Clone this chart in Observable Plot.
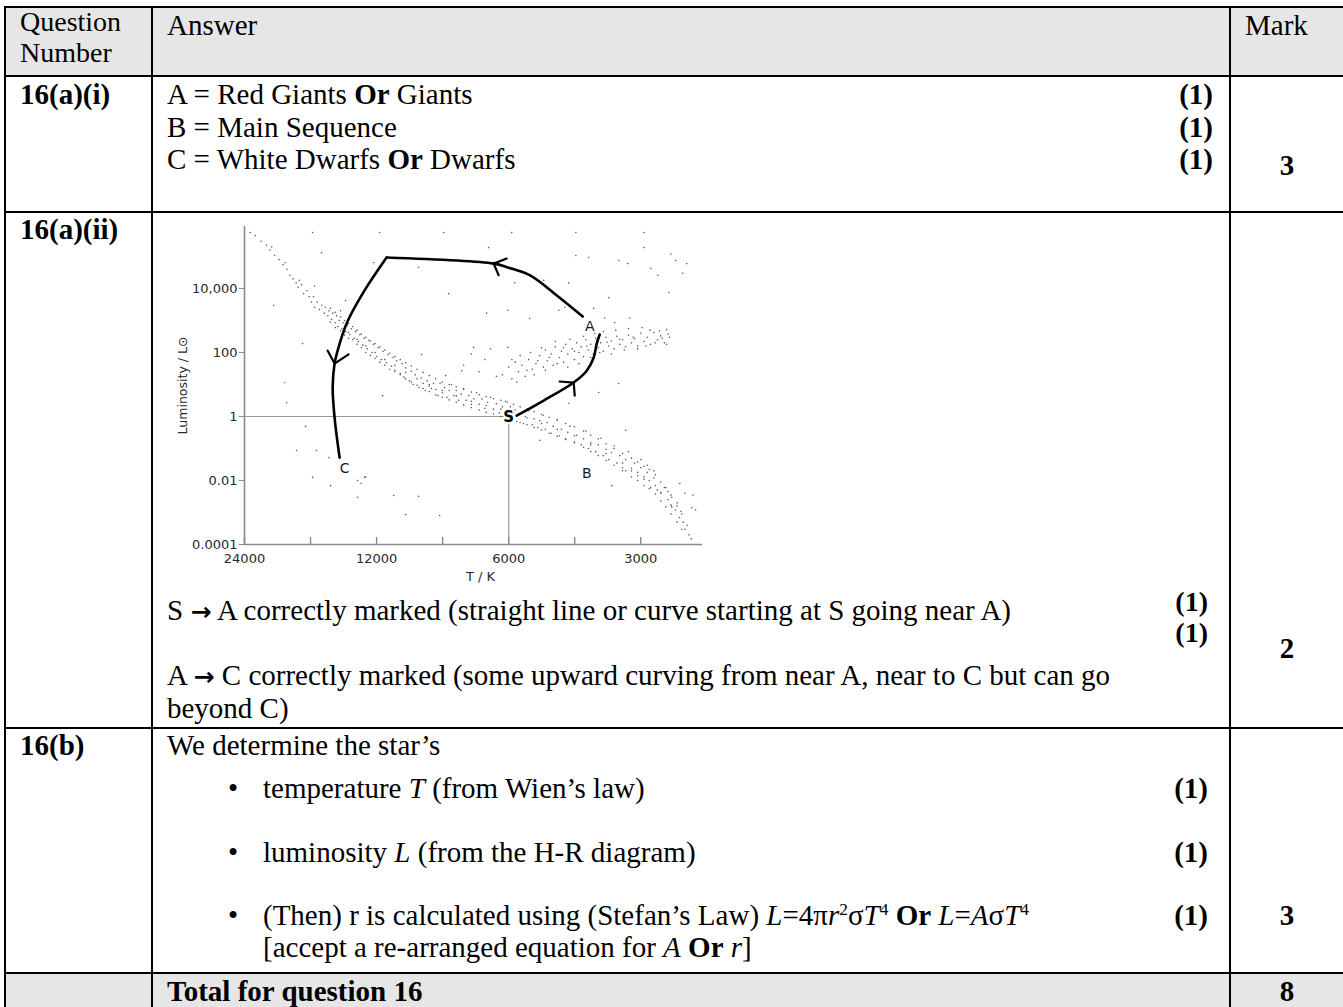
<!DOCTYPE html>
<html><head><meta charset="utf-8">
<script src="https://cdn.jsdelivr.net/npm/d3@7"></script>
<script src="https://cdn.jsdelivr.net/npm/@observablehq/plot@0.6"></script>
<style>
html,body{margin:0;padding:0;background:#fff;}
#page{position:relative;width:1343px;height:1007px;overflow:hidden;font-family:"Liberation Serif","Times New Roman",serif;font-size:29px;color:#000;background:#fff;}
.t{position:absolute;line-height:32px;white-space:nowrap;}
.h{line-height:30px;font-size:28px;}
.m{line-height:30px;font-size:28px;}
.r{text-align:right;}
.c{text-align:center;width:110px;left:1232px;}
.hl{position:absolute;background:#000;height:2px;left:4px;width:1345px;}
.vl{position:absolute;background:#000;width:2px;top:6px;height:1010px;}
.bg{position:absolute;background:#e6e6e6;left:4px;width:1345px;}
.ar{font-family:"DejaVu Sans",sans-serif;font-weight:bold;font-size:25px;}
#chart{position:absolute;left:153px;top:210px;}
sup{font-size:60%;line-height:0;vertical-align:0.55em;}
</style></head>
<body><div id="page">
<div class="bg" style="top:7px;height:69px"></div>
<div class="bg" style="top:973px;height:40px"></div>
<div id="chart"></div>

<div class="t h" style="left:20px;top:7px">Question</div>
<div class="t h" style="left:20px;top:38px">Number</div>
<div class="t" style="left:167px;top:9px">Answer</div>
<div class="t" style="left:1245px;top:9px">Mark</div>

<div class="t" style="left:20px;top:78px"><b>16(a)(i)</b></div>
<div class="t" style="left:167px;top:78px">A = Red Giants <b>Or</b> Giants</div>
<div class="t" style="left:167px;top:111px">B = Main Sequence</div>
<div class="t" style="left:167px;top:143px">C = White Dwarfs <b>Or</b> Dwarfs</div>
<div class="t r" style="right:130px;top:78px"><b>(1)</b></div>
<div class="t r" style="right:130px;top:111px"><b>(1)</b></div>
<div class="t r" style="right:130px;top:143px"><b>(1)</b></div>
<div class="t c" style="top:149px"><b>3</b></div>

<div class="t" style="left:20px;top:213px"><b>16(a)(ii)</b></div>
<div class="t" style="left:167px;top:594px">S <span class="ar">→</span> A correctly marked (straight line or curve starting at S going near A)</div>
<div class="t r m" style="right:135px;top:587px"><b>(1)</b></div>
<div class="t r m" style="right:135px;top:618px"><b>(1)</b></div>
<div class="t c" style="top:632px"><b>2</b></div>
<div class="t" style="left:167px;top:659px">A <span class="ar">→</span> C correctly marked (some upward curving from near A, near to C but can go</div>
<div class="t" style="left:167px;top:692px">beyond C)</div>

<div class="t" style="left:20px;top:729px"><b>16(b)</b></div>
<div class="t" style="left:167px;top:729px">We determine the star’s</div>
<div class="t" style="left:228px;top:772px">•</div>
<div class="t" style="left:263px;top:772px">temperature <i>T</i> (from Wien’s law)</div>
<div class="t r" style="right:135px;top:772px"><b>(1)</b></div>
<div class="t" style="left:228px;top:836px">•</div>
<div class="t" style="left:263px;top:836px">luminosity <i>L</i> (from the H-R diagram)</div>
<div class="t r" style="right:135px;top:836px"><b>(1)</b></div>
<div class="t" style="left:228px;top:899px">•</div>
<div class="t" style="left:263px;top:899px">(Then) r is calculated using (Stefan’s Law) <i>L</i>=4π<i>r</i><sup>2</sup>σ<i>T</i><sup>4</sup> <b>Or</b> <i>L</i>=<i>A</i>σ<i>T</i><sup>4</sup></div>
<div class="t" style="left:263px;top:931px">[accept a re-arranged equation for <i>A</i> <b>Or</b> <i>r</i>]</div>
<div class="t r" style="right:135px;top:899px"><b>(1)</b></div>
<div class="t c" style="top:899px"><b>3</b></div>

<div class="t" style="left:167px;top:975px"><b>Total for question 16</b></div>
<div class="t c" style="top:975px"><b>8</b></div>

<div class="hl" style="top:6px"></div>
<div class="hl" style="top:75px"></div>
<div class="hl" style="top:211px"></div>
<div class="hl" style="top:727px"></div>
<div class="hl" style="top:972px"></div>
<div class="vl" style="left:4px"></div>
<div class="vl" style="left:151px"></div>
<div class="vl" style="left:1229px"></div>
</div>
<script>
// ---- axes ----
const tDomain = [24000, 2170];
const lDomain = [0.0001, 866000];
const xTickValues = [24000, 16971, 12000, 8485, 6000, 4243, 3000];
const xTickLabels = ["24000", "", "12000", "", "6000", "", "3000"];
const yTickValues = [10000, 100, 1, 0.01, 0.0001];
const yTickLabels = ["10,000", "100", "1", "0.01", "0.0001"];
const xLabel = "T / K";
const yLabel = "Luminosity / L\u2299";
const sunT = 6000, sunL = 1;

// ---- stars [T (K), L (L_sun)] ----
const mainSequence = [
[23300,5.6e5],[22700,4.5e5],[22000,3.0e5],[21400,2.3e5],[21000,1.6e5],[20800,2.0e5],[20500,1.1e5],[20000,8e4],[19600,5.5e4],[19400,6.5e4],[19200,4.0e4],[18900,2.6e4],[18600,2.0e4],[18300,1.5e4],[18100,1.1e4],[18000,1.8e4],[17800,1.3e4],[17600,7e3],[17300,8.5e3],[17100,5.5e3],[16900,3.8e3],
[16700,5.5e3],[16600,2.6e3],[16400,3.8e3],[16200,2.2e3],[16000,3.0e3],[15800,1.7e3],[15700,2.6e3],[15500,1.4e3],[15400,2.0e3],[15200,1.1e3],[15100,1.7e3],[14900,850],[14800,1.4e3],[14700,650],[14600,1.0e3],[14400,550],[14300,850],[14100,450],[14000,700],[13800,360],[13700,550],[13500,280],[13400,450],[13200,220],[13100,360],[12900,170],[12800,280],
[12600,130],[12500,240],[12300,100],[12200,180],[12000,75],[11900,140],[11700,60],[11600,110],[11400,48],[11300,85],[11100,38],[11000,70],[10900,28],[10800,55],[10600,22],[10500,45],[10400,17],[10300,33],[10100,13],[10000,26],[9900,10],[9800,20],[9600,8],[9500,16],[9400,11],[9300,6.5],[9200,13],[9100,9],[9000,7.5],[8900,11],[8800,7],[8700,4.5],
[8600,11],[8500,5.5],[8400,8],[8300,4],[8200,6.5],[8100,10],[8000,4.5],[7900,6.5],[7800,3.2],[7700,5],[7600,7.5],[7500,3.2],[7400,4.5],[7300,2.4],[7200,3.6],[7100,5.5],[7000,2.4],[6900,3.5],[6800,1.8],[6700,2.8],[6600,4],[6500,1.7],[6400,2.5],[6300,1.3],[6200,2.0],[6100,3.0],[6000,1.2],[5950,2.0],
[5900,1.0],[5800,1.6],[5750,0.7],[5650,1.2],[5550,0.6],[5500,1.0],[5400,1.5],[5300,0.55],[5250,0.85],[5150,0.45],[5100,0.75],[5000,1.1],[4950,0.4],[4900,0.65],[4800,0.3],[4750,0.5],[4650,0.8],[4600,0.25],[4550,0.4],[4450,0.2],[4400,0.32],[4350,0.5],[4250,0.16],[4200,0.26],[4100,0.13],[4050,0.2],[4000,0.35],[3950,0.1],[3900,0.15],[3800,0.08],[3750,0.13],[3700,0.21],[3650,0.06],[3600,0.095],[3550,0.045],[3500,0.075],[3450,0.12],
[3400,0.035],[3350,0.06],[3300,0.025],[3250,0.045],[3200,0.08],[3150,0.02],[3100,0.035],[3050,0.014],[3000,0.025],[3000,0.045],[2950,0.011],[2900,0.018],[2900,0.03],[2850,0.006],[2800,0.012],[2800,0.02],[2750,0.005],[2700,0.009],[2700,0.004],[2650,0.006],[2600,0.0025],[2600,0.0045],[2550,0.0015],[2550,0.003],[2500,0.0012],[2480,0.002],[2450,0.0007],[2430,0.0011],[2400,0.0005],[2380,0.0003],[2350,0.0004],[2330,0.0002],[2300,0.00015],[2280,0.0035],[2250,0.0012]
];
const mainSequenceFill = [
[15300,900],[15300,2400],[14900,600],[14900,1800],[14500,480],[14500,1300],[14500,2000],[14200,350],[14200,1000],[13900,280],[13900,800],[13900,420],[13600,250],[13600,650],[13300,180],[13300,500],[13300,260],[13000,140],[13000,380],[12700,100],[12700,300],[12700,160],[12400,80],[12400,230],[12100,65],[12100,190],[12100,100],[11800,50],[11800,150],[11500,40],[11500,120],[11500,60],[11200,30],[11200,95],[10900,25],[10900,75],[10900,40],[10600,20],[10600,60],[10300,15],[10300,48],[10300,24],[10000,12],[10000,38],[9700,9.5],[9700,30],[9700,15],[9400,7.5],[9400,24],[9100,6],[9100,19],[9100,10],[8800,4.8],[8800,15],[8500,4],[8500,12],[8500,6.5],[8200,3.3],[8200,10],[7900,2.8],[7900,8.5],[7900,4.4],[7600,2.3],[7600,7],[7300,1.9],[7300,5.8],[7300,3.0],[7000,1.6],[7000,4.8],[6750,1.35],[6750,4.2],[6750,2.2],[6500,1.2],[6500,3.6],[6250,1.0],[6250,3.2],[6250,1.7],[6050,0.9],[6050,2.8],[5850,0.8],[5850,2.4],[5850,1.3],[5650,0.65],[5650,2.0],[5450,0.55],[5450,1.7],[5450,0.9],[5250,0.45],[5250,1.4],[5050,0.38],[5050,1.15],[5050,0.6],[4850,0.3],[4850,0.95],[4650,0.24],[4650,0.78],[4650,0.4],[4450,0.19],[4450,0.6],[4250,0.15],[4250,0.48],[4250,0.25],[4050,0.11],[4050,0.35],[3900,0.08],[3900,0.26],[3900,0.13],[3750,0.06],[3750,0.2],[3600,0.042],[3600,0.14],[3600,0.07],[3450,0.03],[3450,0.1],[3300,0.02],[3300,0.07],[3300,0.035],[3150,0.013],[3150,0.05],[3150,0.024],[3050,0.01],[3050,0.038],[3050,0.018],[2950,0.007],[2950,0.028],[2950,0.013],[2870,0.0055],[2870,0.022],[2870,0.01],[2780,0.0038],[2780,0.015],[2780,0.007],[2700,0.0023],[2700,0.0042],[2630,0.0015],[2630,0.006],[2560,0.0009],[2560,0.0035],[2560,0.0017],[2480,0.0005],[2480,0.0016],[2420,0.0003],[2420,0.0009]
];
const giants = [
[6200,20],[6000,35],[5900,15],[5800,50],[5700,25],[5600,40],[5500,18],[5400,60],[5300,30],[5200,45],[5100,80],[5000,35],[4950,120],[4900,55],[4800,90],[4750,40],[4700,150],[4600,70],[4550,110],[4500,50],[4450,180],[4400,90],[4300,130],[4250,60],[4200,200],[4150,100],[4100,150],[4050,75],[4000,250],[3950,120],[3900,180],[3850,90],[3800,280],[3750,140],[3700,200],[3650,110],[3600,300],[3550,160],[3500,230],[3450,130],[3400,320],[3350,180],[3300,250],[3250,150],[3200,350],[3150,200],[3100,270],[3050,160],[3000,400],[2950,220],[2900,300],[2850,180],[2800,420],[2750,250],[2700,330],[2650,200],[2600,380],
[5900,60],[5750,12],[5650,80],[5450,28],[5350,100],[5250,20],[5150,55],[5050,140],[4950,28],[4850,70],[4700,220],[4650,45],[4500,140],[4400,35],[4350,260],[4250,110],[4150,45],[4050,320],[3980,160],[3900,70],[3820,400],[3720,100],[3650,450],[3580,210],[3500,90],[3420,500],[3350,260],[3270,120],[3200,560],[3120,300],[3050,130],[2980,600],[2920,160],[2860,500],[2780,200],[2720,480],[2680,280],[2620,520],[2580,300],[2620,180],
[7600,40],[7300,90],[7000,25],[6800,60],[6600,130],[6400,18]
];
const scattered = [
[16790,5.6e5],[11810,5.6e5],[8440,5.6e5],[5905,5.6e5],[4218,5.6e5],[2952,5.6e5],
[16020,1.3e5],[12190,6.5e4],[9627,4.6e4],[16620,1.2e4],[20600,3.0e3],[14120,4.2e3],[8225,6.9e3],[6736,1.7e3],[6030,2.1e3],[5374,1.15e3],
[3368,7.5e4],[3213,6e4],[2952,1.9e5],[2847,4.2e4],[2743,2.6e4],[2562,1.2e5],[2497,7.5e4],[2357,6e4],[2407,3e4],[2589,7.5e3],
[3625,1.2e3],[3438,870],[3178,1.2e3],[3840,2.4e3],[4377,1.5e4],[4993,1.8e4],[5815,1.5e4],[4470,2.6e3],
[6667,1.9e5],[4218,1.07e5],[3941,9.3e4],[3548,5.2e3],[4613,2.1e3],
[18260,0.087],[16450,0.087],[16790,0.0125],[15280,0.0069],[13260,0.01],[12780,0.0125],[13260,0.003],[10970,0.0034],[9627,0.0032],[10300,0.00087],[8620,0.00081],
[3493,0.0069],[3247,0.02],[2444,0.0081],[2380,0.004],[2295,0.0014],[3247,0.37],[5097,0.18],
[9475,87],[7210,145],[6030,145],[11630,4.5],[4377,2.6],[3740,5.6],[3368,10.7],[17700,190],[19240,2.7],[8350,19],[7680,27],
[17420,0.49],[15400,0.052],[13020,0.0081],[12700,0.013]
];
const stray = [[19450,11.5]];

// ---- hand-drawn evolution track ----
const trackSA = [[5753,1.07],[4993,3.16],[4266,11.5],[3983,27],[3840,70],[3780,190],[3721,365]];
const trackAtop = [[4068,1330],[4715,6900],[5374,2.6e4],[6030,4.55e4],[6492,6.0e4],[11385,9.3e4]];
const trackTopC = [[11385,9.3e4],[12780,8.7e3],[14045,810],[14720,115],[14960,45],[15110,8.05],[14960,0.93],[14570,0.052]];
const arrowHeads = [
  [[4592,12.4],[4266,11.5],[4243,4.5]],
  [[6063,8.6e4],[6492,6.0e4],[6324,2.6e4]],
  [[15520,115],[14960,45],[13900,87]]
];
const regionLabels = [
  {T:3920, L:650, text:"A"},
  {T:3983, L:0.0165, text:"B"},
  {T:14190, L:0.0237, text:"C"}
];
const sunLabel = [{T:6000, L:0.93, text:"S"}];

const xLab = new Map(xTickValues.map((v,i)=>[v, xTickLabels[i]]));
const yLab = new Map(yTickValues.map((v,i)=>[v, yTickLabels[i]]));
const stars = [...mainSequence, ...mainSequenceFill, ...giants, ...scattered];
const headRows = arrowHeads.flatMap((h,k)=>h.map(p=>({T:p[0], L:p[1], k})));
const F = "DejaVu Sans, Verdana, sans-serif";
const axisGray = "#8a8a8a";

const chart = Plot.plot({
  width: 560, height: 390,
  marginLeft: 91, marginRight: 11, marginTop: 16, marginBottom: 56,
  x: {type: "log", domain: tDomain},
  y: {type: "log", domain: lDomain},
  style: {background: "transparent", overflow: "visible", fontFamily: F, fontSize: "13px"},
  marks: [
    Plot.ruleY([sunL], {x1: () => tDomain[0], x2: () => sunT, stroke: "#9a9a9a", strokeWidth: 1.2}),
    Plot.ruleX([sunT], {y1: () => lDomain[0], y2: () => sunL, stroke: "#9a9a9a", strokeWidth: 1.2}),
    Plot.dot(stars, {x: d => d[0], y: d => d[1], r: 0.8, fill: "#5a5a5a"}),
    Plot.dot(stray, {x: d => d[0], y: d => d[1], r: 1, fill: "#7ab8ea"}),
    Plot.ruleY([lDomain[0]], {stroke: axisGray, strokeWidth: 1.6}),
    Plot.ruleX([tDomain[0]], {stroke: axisGray, strokeWidth: 1.6}),
    Plot.ruleX(xTickValues, {y1: () => lDomain[0], y2: () => lDomain[0], insetBottom: 7, stroke: axisGray, strokeWidth: 1.4}),
    Plot.axisX(xTickValues, {tickSize: 0, tickPadding: 9, tickFormat: d => xLab.get(d), fill: "#2a2a2a", fontSize: 13, label: null}),
    Plot.axisY(yTickValues, {tickSize: 5, tickPadding: 2, tickFormat: d => yLab.get(d), stroke: axisGray, fill: "#2a2a2a", fontSize: 13, label: null}),
    Plot.text([xLabel], {frameAnchor: "bottom", dx: 7, dy: 36, fontSize: 13, fill: "#2a2a2a"}),
    Plot.text([yLabel], {frameAnchor: "left", dx: -62, rotate: -90, textAnchor: "middle", fontSize: 12.5, fill: "#2a2a2a"}),
    Plot.line(trackSA, {x: d => d[0], y: d => d[1], stroke: "#000", strokeWidth: 2.6, curve: "catmull-rom"}),
    Plot.line(trackAtop, {x: d => d[0], y: d => d[1], stroke: "#000", strokeWidth: 2.6, curve: "catmull-rom"}),
    Plot.line(trackTopC, {x: d => d[0], y: d => d[1], stroke: "#000", strokeWidth: 2.6, curve: "catmull-rom"}),
    Plot.line(headRows, {x: "T", y: "L", z: "k", stroke: "#000", strokeWidth: 2.2, curve: "linear"}),
    Plot.text(regionLabels, {x: "T", y: "L", text: "text", fontSize: 14, fill: "#1a1a1a"}),
    Plot.text(sunLabel, {x: "T", y: "L", text: "text", fontSize: 15, fontWeight: "bold", fill: "#000", stroke: "#fff", strokeWidth: 3})
  ]
});
document.getElementById("chart").appendChild(chart);
</script>
</body></html>
